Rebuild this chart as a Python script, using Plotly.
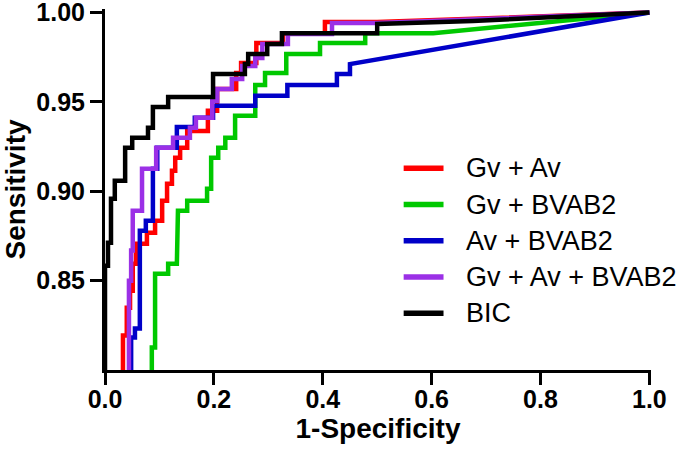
import plotly.graph_objects as go

# ---- data (1-Specificity, Sensitivity) ----
series_names = ["Gv + Av", "Gv + BVAB2", "Av + BVAB2", "Gv + Av + BVAB2", "BIC"]
series_colors = ["#FF0000", "#00C800", "#0000C8", "#9B30E6", "#000000"]

gv_av_x = [0.033, 0.033, 0.040, 0.040, 0.046, 0.046, 0.051, 0.051, 0.057, 0.057, 0.077, 0.077,
           0.092, 0.092, 0.105, 0.105, 0.114, 0.114, 0.123, 0.123, 0.129, 0.129, 0.138, 0.138,
           0.151, 0.151, 0.189, 0.189, 0.206, 0.206, 0.241, 0.241, 0.250, 0.250, 0.278, 0.278,
           0.327, 0.327, 0.404, 0.404, 0.500, 1.0]
gv_av_y = [0.80, 0.8193, 0.8193, 0.8349, 0.8349, 0.8444, 0.8444, 0.8595, 0.8595, 0.8707, 0.8707, 0.8768,
           0.8768, 0.8835, 0.8835, 0.8947, 0.8947, 0.9042, 0.9042, 0.9115, 0.9115, 0.9187, 0.9187, 0.9243,
           0.9243, 0.9338, 0.9338, 0.945, 0.945, 0.9573, 0.9573, 0.9662, 0.9662, 0.9718, 0.9718, 0.983,
           0.983, 0.9885, 0.9885, 0.9947, 0.9947, 1.0]

gv_bvab2_x = [0.086, 0.086, 0.092, 0.092, 0.116, 0.116, 0.132, 0.132, 0.134, 0.134, 0.151, 0.151,
              0.1875, 0.1875, 0.195, 0.195, 0.208, 0.208, 0.221, 0.221, 0.239, 0.239, 0.276, 0.276,
              0.294, 0.294, 0.333, 0.333, 0.395, 0.395, 0.478, 0.478, 0.603, 0.923, 1.0]
gv_bvab2_y = [0.80, 0.8126, 0.8126, 0.8539, 0.8539, 0.8595, 0.8595, 0.8723, 0.8723, 0.8891, 0.8891, 0.8947,
              0.8947, 0.9014, 0.9014, 0.9187, 0.9187, 0.9243, 0.9243, 0.9299, 0.9299, 0.9422, 0.9422, 0.9595,
              0.9595, 0.9662, 0.9662, 0.9768, 0.9768, 0.983, 0.983, 0.9885, 0.9885, 0.998, 1.0]

av_bvab2_x = [0.048, 0.048, 0.055, 0.055, 0.064, 0.064, 0.075, 0.075, 0.088, 0.088, 0.096, 0.096,
              0.132, 0.132, 0.165, 0.165, 0.1985, 0.1985, 0.276, 0.276, 0.335, 0.335, 0.426, 0.426,
              0.450, 0.450, 1.0]
av_bvab2_y = [0.80, 0.8182, 0.8182, 0.8232, 0.8232, 0.8779, 0.8779, 0.8835, 0.8835, 0.9126, 0.9126, 0.9243,
              0.9243, 0.936, 0.936, 0.9411, 0.9411, 0.9478, 0.9478, 0.9534, 0.9534, 0.9595, 0.9595, 0.9656,
              0.9656, 0.9712, 1.0]

gv_av_bvab2_x = [0.044, 0.044, 0.048, 0.048, 0.051, 0.051, 0.068, 0.068, 0.094, 0.094, 0.125, 0.125,
                 0.156, 0.156, 0.167, 0.167, 0.197, 0.197, 0.206, 0.206, 0.233, 0.233, 0.252, 0.252,
                 0.276, 0.276, 0.289, 0.289, 0.336, 0.336, 0.417, 0.417, 0.500, 1.0]
gv_av_bvab2_y = [0.80, 0.85, 0.85, 0.8668, 0.8668, 0.8891, 0.8891, 0.9126, 0.9126, 0.9243, 0.9243, 0.9299,
                 0.9299, 0.9355, 0.9355, 0.9411, 0.9411, 0.9506, 0.9506, 0.9573, 0.9573, 0.9628, 0.9628, 0.9701,
                 0.9701, 0.9746, 0.9746, 0.9824, 0.9824, 0.988, 0.988, 0.9941, 0.9941, 1.0]

bic_x = [0, 0, 0.0055, 0.0055, 0.011, 0.011, 0.018, 0.018, 0.037, 0.037, 0.050, 0.050, 0.079, 0.079,
         0.088, 0.088, 0.116, 0.116, 0.1985, 0.1985, 0.257, 0.257, 0.263, 0.263, 0.298, 0.298,
         0.325, 0.325, 0.500, 0.500, 0.676, 0.934, 1.0]
bic_y = [0.80, 0.8584, 0.8584, 0.8712, 0.8712, 0.8958, 0.8958, 0.9059, 0.9059, 0.9243, 0.9243, 0.9299,
         0.9299, 0.9355, 0.9355, 0.9472, 0.9472, 0.9528, 0.9528, 0.9656, 0.9656, 0.9712, 0.9712, 0.9768,
         0.9768, 0.9824, 0.9824, 0.9885, 0.9885, 0.9936, 0.9953, 0.9993, 1.0]

x_ticks = [0.0, 0.2, 0.4, 0.6, 0.8, 1.0]
x_tick_labels = ["0.0", "0.2", "0.4", "0.6", "0.8", "1.0"]
y_ticks = [0.85, 0.90, 0.95, 1.00]
y_tick_labels = ["0.85", "0.90", "0.95", "1.00"]

xs = [gv_av_x, gv_bvab2_x, av_bvab2_x, gv_av_bvab2_x, bic_x]
ys = [gv_av_y, gv_bvab2_y, av_bvab2_y, gv_av_bvab2_y, bic_y]

FONT = "Liberation Sans, Arial, sans-serif"

fig = go.Figure()
for name, color, x, y in zip(series_names, series_colors, xs, ys):
    fig.add_trace(go.Scatter(x=x, y=y, mode="lines", name=name, showlegend=False,
                             line=dict(color=color, width=4.5, shape="linear")))

# manual legend (line sample + label)
leg_y0 = 0.5587
leg_dy = 0.1003
for i, (name, color) in enumerate(zip(series_names, series_colors)):
    yy = leg_y0 - i * leg_dy
    fig.add_shape(type="line", xref="paper", yref="paper", x0=0.547, x1=0.620, y0=yy, y1=yy,
                  line=dict(color=color, width=5.5))
    fig.add_annotation(xref="paper", yref="paper", x=0.657, y=yy, text=name, showarrow=False,
                       xanchor="left", yanchor="middle",
                       font=dict(family=FONT, size=27, color="black"))

axis_common = dict(showgrid=False, zeroline=False, showline=True, linecolor="black", linewidth=3,
                   ticks="outside", ticklen=12, tickwidth=3, tickcolor="black",
                   tickfont=dict(family=FONT, size=25, color="black", weight="bold"),
                   ticklabeloverflow="allow", automargin=False)

fig.update_layout(
    width=700, height=457,
    margin=dict(l=105, r=49, t=9, b=87),
    paper_bgcolor="white", plot_bgcolor="white",
    xaxis=dict(range=[0, 1.003], tickvals=x_ticks, ticktext=x_tick_labels, ticklabelstandoff=-7,
               title=dict(text="1-Specificity", standoff=2,
                          font=dict(family=FONT, size=28, color="black", weight="bold")),
               **axis_common),
    yaxis=dict(range=[0.8, 1.002], tickvals=y_ticks, ticktext=y_tick_labels,
               title=dict(text="Sensitivity", standoff=19,
                          font=dict(family=FONT, size=28, color="black", weight="bold")),
               **axis_common),
)

fig.write_html("out.html", config={"displayModeBar": False},
               post_script="document.body.style.margin='0';document.body.style.padding='0';")
